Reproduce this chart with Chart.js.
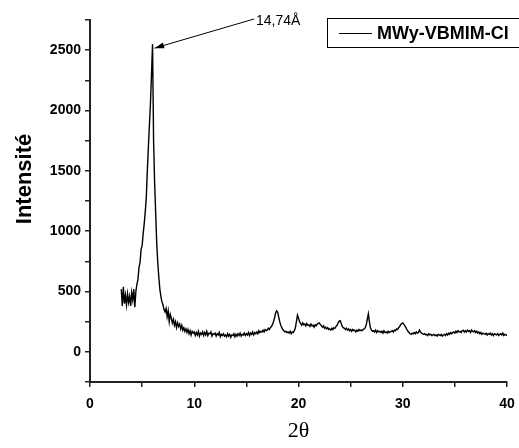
<!DOCTYPE html>
<html>
<head>
<meta charset="utf-8">
<script src="https://cdn.jsdelivr.net/npm/chart.js@4"></script>
<style>
  html, body { margin: 0; padding: 0; background: #fff; }
  #wrap { width: 519px; height: 448px; }
</style>
</head>
<body>
<div id="wrap"><canvas id="xrdChart" width="519" height="448"></canvas></div>
<script>
// scan: 2θ from 3.0 to 40.0, step 0.1
const scanStart = 3.0;
const scanStep = 0.1;
const intensity = [
  520, 380, 540, 400, 470, 390, 480, 410, 460, 380,   // 3.0
  490, 430, 520, 370, 500, 560, 600, 700, 740, 850,   // 4.0
  880, 980, 1060, 1160, 1280, 1500, 1700, 1880, 2060, 2300, // 5.0
  2550, 1750, 1400, 1150, 900, 740, 620, 520, 460, 415, // 6.0
  390, 350, 330, 360, 290, 340, 250, 310, 280, 240,   // 7.0
  270, 220, 250, 200, 240, 210, 230, 190, 220, 180,   // 8.0
  200, 170, 190, 160, 185, 150, 175, 140, 170, 155,   // 9.0
  165, 135, 160, 140, 170, 130, 155, 145, 165, 135,   // 10.0
  160, 140, 170, 135, 155, 150, 165, 130, 150, 145,   // 11.0
  155, 130, 150, 140, 160, 125, 145, 135, 150, 130,   // 12.0
  140, 125, 150, 130, 145, 120, 140, 135, 150, 125,   // 13.0
  145, 130, 150, 135, 155, 130, 145, 140, 155, 135,   // 14.0
  150, 140, 160, 135, 155, 145, 165, 140, 160, 150,   // 15.0
  165, 150, 175, 160, 170, 165, 180, 165, 185, 175,   // 16.0
  180, 195, 185, 200, 210, 225, 250, 280, 320, 340,   // 17.0
  330, 290, 250, 220, 200, 185, 175, 165, 170, 160,   // 18.0
  165, 155, 170, 150, 165, 160, 175, 200, 250, 305,   // 19.0
  280, 250, 235, 220, 240, 225, 230, 215, 235, 220,   // 20.0
  225, 210, 230, 215, 220, 205, 225, 215, 230, 235,   // 21.0
  240, 225, 215, 205, 215, 195, 205, 190, 200, 185,   // 22.0
  190, 180, 195, 185, 200, 195, 210, 220, 240, 255,   // 23.0
  258, 235, 210, 200, 195, 185, 195, 180, 190, 175,   // 24.0
  185, 170, 185, 175, 180, 165, 180, 170, 185, 175,   // 25.0
  180, 175, 185, 190, 200, 225, 270, 315, 250, 200,   // 26.0
  180, 170, 175, 165, 180, 160, 175, 165, 170, 160,   // 27.0
  170, 155, 175, 160, 165, 155, 170, 160, 165, 170,   // 28.0
  175, 165, 180, 175, 190, 185, 200, 210, 225, 235,   // 29.0
  240, 230, 215, 200, 185, 170, 160, 150, 145, 155,   // 30.0
  150, 160, 150, 165, 155, 160, 180, 165, 155, 150,   // 31.0
  145, 150, 140, 145, 135, 150, 140, 145, 135, 140,   // 32.0
  145, 135, 140, 130, 145, 140, 135, 145, 130, 140,   // 33.0
  145, 135, 150, 140, 155, 145, 160, 150, 160, 165,   // 34.0
  155, 170, 160, 175, 165, 170, 160, 175, 180, 165,   // 35.0
  175, 165, 180, 170, 175, 160, 180, 170, 165, 175,   // 36.0
  160, 170, 155, 165, 150, 160, 145, 155, 150, 145,   // 37.0
  155, 140, 150, 145, 155, 140, 150, 135, 150, 145,   // 38.0
  140, 150, 135, 145, 150, 140, 155, 135, 145, 140,   // 39.0
  135                                                 // 40.0
];
const twoTheta = intensity.map((_, i) => +(scanStart + i * scanStep).toFixed(1));

const seriesLabel = 'MWy-VBMIM-Cl';
const peakLabel = '14,74Å';
const peakTwoTheta = 6.0;
const xTicksMajor = [0, 10, 20, 30, 40];
const yTicksMajor = [0, 500, 1000, 1500, 2000, 2500];

const sansFont = 'Arial, "Liberation Sans", sans-serif';

// legend box, axis title and peak arrow
const extras = {
  id: 'extras',
  afterDraw(chart) {
    const ctx = chart.ctx;
    const xs = chart.scales.x, ys = chart.scales.y;
    ctx.save();

    // y title
    ctx.fillStyle = '#000';
    ctx.font = 'bold 22px ' + sansFont;
    ctx.textAlign = 'center';
    ctx.textBaseline = 'middle';
    ctx.translate(25, 179);
    ctx.rotate(-Math.PI / 2);
    ctx.fillText('Intensité', 0, 0);
    ctx.setTransform(1, 0, 0, 1, 0, 0);

    // legend
    ctx.strokeStyle = '#000';
    ctx.lineWidth = 1;
    ctx.strokeRect(327.5, 18.5, 200, 29);
    ctx.beginPath();
    ctx.moveTo(339, 33.5);
    ctx.lineTo(372, 33.5);
    ctx.stroke();
    ctx.font = 'bold 18px ' + sansFont;
    ctx.textAlign = 'left';
    ctx.fillText(seriesLabel, 377, 34);

    // peak annotation
    const idx = twoTheta.indexOf(peakTwoTheta);
    const tipX = xs.getPixelForValue(peakTwoTheta) + 2;
    const tipY = ys.getPixelForValue(intensity[idx]) + 4;
    const startX = 254, startY = 19;
    ctx.beginPath();
    ctx.moveTo(startX, startY);
    ctx.lineTo(tipX, tipY);
    ctx.stroke();
    const ang = Math.atan2(tipY - startY, tipX - startX);
    ctx.beginPath();
    ctx.moveTo(tipX, tipY);
    ctx.lineTo(tipX - 10 * Math.cos(ang - 0.3), tipY - 10 * Math.sin(ang - 0.3));
    ctx.lineTo(tipX - 10 * Math.cos(ang + 0.3), tipY - 10 * Math.sin(ang + 0.3));
    ctx.closePath();
    ctx.fill();
    ctx.font = '14px ' + sansFont;
    ctx.textBaseline = 'alphabetic';
    ctx.fillText(peakLabel, 256, 25);
    ctx.restore();
  }
};

const ctx = document.getElementById('xrdChart').getContext('2d');
new Chart(ctx, {
  type: 'line',
  data: {
    datasets: [{
      label: seriesLabel,
      data: twoTheta.map((t, i) => ({ x: t, y: intensity[i] })),
      borderColor: '#000',
      borderWidth: 1.4,
      pointRadius: 0,
      tension: 0,
      fill: false
    }]
  },
  options: {
    responsive: false,
    animation: false,
    layout: { padding: { top: 20, right: 12, left: 0, bottom: 0 } },
    scales: {
      x: {
        type: 'linear',
        min: 0,
        max: 40,
        afterFit: s => { s.height = 66; s.paddingLeft = 0; s.paddingRight = 0; },
        border: { display: true, color: '#222', width: 2 },
        grid: { display: true, drawOnChartArea: false, drawTicks: true, tickLength: 5, color: '#222', lineWidth: 1.5 },
        ticks: {
          stepSize: 5,
          color: '#000',
          padding: 9,
          maxRotation: 0,
          font: { family: sansFont, size: 14, weight: 'bold' },
          callback: v => xTicksMajor.includes(v) ? v : ''
        },
        title: {
          display: true,
          text: '2θ',
          color: '#000',
          font: { family: '"Times New Roman", "Liberation Serif", serif', size: 22 },
          padding: { top: 0, bottom: 4 }
        }
      },
      y: {
        min: -250,
        max: 2750,
        afterFit: s => { s.width = 90; s.paddingTop = 0; s.paddingBottom = 0; },
        border: { display: true, color: '#222', width: 2 },
        grid: { display: true, drawOnChartArea: false, drawTicks: true, tickLength: 5, color: '#222', lineWidth: 1.5 },
        ticks: {
          stepSize: 250,
          color: '#000',
          padding: 4,
          font: { family: sansFont, size: 14, weight: 'bold' },
          callback: v => yTicksMajor.includes(v) ? v : ''
        }
      }
    },
    plugins: {
      legend: { display: false },
      tooltip: { enabled: false }
    }
  },
  plugins: [extras]
});
</script>
</body>
</html>
